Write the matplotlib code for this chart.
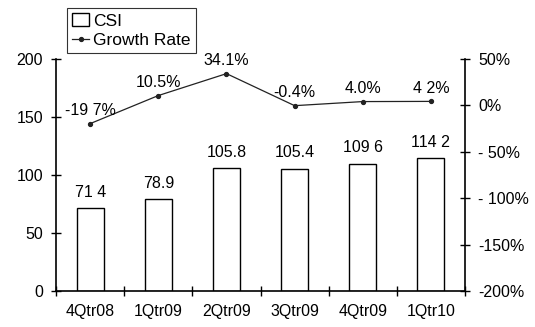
import matplotlib.pyplot as plt
from matplotlib.ticker import FixedLocator, NullFormatter

quarters = ['4Qtr08', '1Qtr09', '2Qtr09', '3Qtr09', '4Qtr09', '1Qtr10']
csi = [71.4, 78.9, 105.8, 105.4, 109.6, 114.2]
growth = [-19.7, 10.5, 34.1, -0.4, 4.0, 4.2]
csi_labels = ['71 4', '78.9', '105.8', '105.4', '109 6', '114 2']
growth_labels = ['-19 7%', '10.5%', '34.1%', '-0.4%', '4.0%', '4 2%']

plt.rcParams['font.family'] = ['Liberation Sans', 'DejaVu Sans']
plt.rcParams['font.size'] = 11.5

fig = plt.figure(figsize=(5.35, 3.27), dpi=100)
ax = fig.add_axes([0.105, 0.110, 0.764, 0.710])
x = list(range(len(quarters)))

bars = ax.bar(x, csi, width=0.4, color='white', edgecolor='black', linewidth=1.0, label='CSI')
ax.set_xlim(-0.5, 5.5)
ax.set_ylim(0, 200)
ax.set_yticks([0, 50, 100, 150, 200])
ax.set_xticks(x)
ax.set_xticklabels(quarters)
ax.tick_params(axis='x', which='major', length=0, pad=9)
ax.xaxis.set_minor_locator(FixedLocator([i + 0.5 for i in range(-1, 6)]))
ax.xaxis.set_minor_formatter(NullFormatter())
ax.tick_params(axis='x', which='minor', direction='inout', length=7, width=1)
ax.tick_params(axis='y', direction='inout', length=7, width=1, pad=6)
ax.spines['top'].set_visible(False)
ax.spines['right'].set_visible(False)
for s in ['left', 'bottom']:
    ax.spines[s].set_linewidth(1.2)

for xi, v, lab in zip(x, csi, csi_labels):
    ax.annotate(lab, (xi, v), xytext=(0, 6), textcoords='offset points',
                ha='center', va='bottom')

ax2 = ax.twinx()
line, = ax2.plot(x, growth, color='#222222', linewidth=0.9, marker='o',
                 markersize=2.8, label='Growth Rate')
ax2.set_ylim(-200, 50)
ax2.set_yticks([-200, -150, -100, -50, 0, 50])
ax2.set_yticklabels(['-200%', '-150%', '- 100%', '- 50%', '0%', '50%'])
ax2.tick_params(axis='y', direction='inout', length=7, width=1, pad=6)
ax2.spines['top'].set_visible(False)
ax2.spines['left'].set_visible(False)
ax2.spines['bottom'].set_visible(False)
ax2.spines['right'].set_linewidth(1.2)

for xi, v, lab in zip(x, growth, growth_labels):
    ax2.annotate(lab, (xi, v), xytext=(0, 4), textcoords='offset points',
                 ha='center', va='bottom')

leg = fig.legend([bars, line], ['CSI', 'Growth Rate'], loc='upper left',
                 bbox_to_anchor=(0.125, 0.975), frameon=True, fancybox=False,
                 edgecolor='black', borderpad=0.3, handlelength=1.0,
                 handletextpad=0.2, labelspacing=0.25, borderaxespad=0,
                 fontsize=12.5)
leg.get_frame().set_linewidth(0.8)

fig.savefig('out.png', dpi=100)
